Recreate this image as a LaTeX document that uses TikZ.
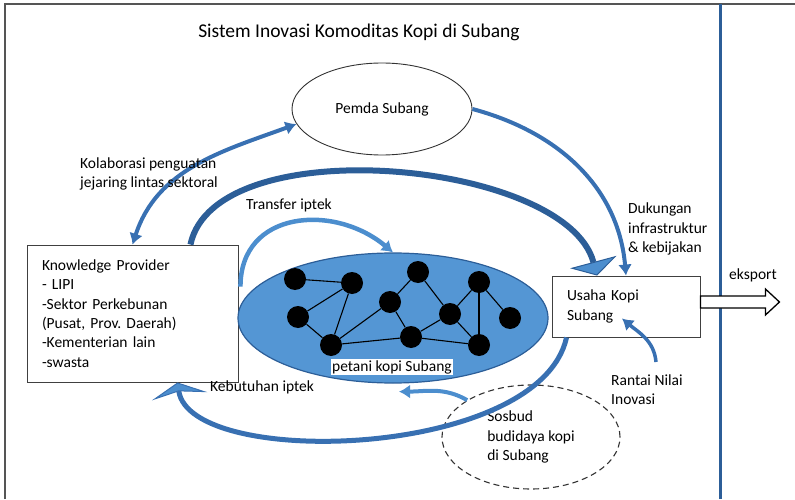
\documentclass[tikz,border=0pt]{standalone}
\usepackage{fontspec}
\setmainfont{Carlito}
\frenchspacing
\usetikzlibrary{positioning,arrows.meta,shapes.geometric,calc}
\definecolor{kopidark}{RGB}{44,94,152}
\definecolor{kopiblue}{RGB}{56,112,178}
\definecolor{kopilight}{RGB}{76,142,206}
\definecolor{kopifill}{RGB}{84,150,212}
\definecolor{framegray}{RGB}{85,85,85}
\newcommand{\kopifont}{\fontsize{15.5}{19.3}\selectfont}
\newcommand{\kopititle}{\fontsize{19.5}{23}\selectfont}
\tikzset{
  boxstyle/.style={rectangle, draw=black!75, line width=0.9pt, fill=white,
    inner xsep=15pt, inner ysep=4pt, align=left, font=\kopifont},
  ovalstyle/.style={ellipse, draw=black!80, line width=0.9pt, inner sep=0pt,
    align=left, font=\kopifont},
  netstyle/.style={ellipse, draw=kopidark, line width=1.2pt, fill=kopifill,
    minimum width=310pt, minimum height=130pt},
  dot/.style={circle, fill=black, minimum size=22pt, inner sep=0pt},
  labelstyle/.style={inner sep=0pt, align=left, font=\kopifont},
  bluearrow/.style={kopiblue, line width=4pt, ->},
  lightarrow/.style={kopilight, line width=4.5pt, ->},
  bigarrow/.style={kopidark, line width=6pt,
    -{Triangle[length=14pt, width=48pt, line width=1pt, fill=kopilight]}},
  needarrow/.style={kopiblue, line width=5pt,
    -{Stealth[length=14pt, width=56pt, inset=5pt, line width=1pt, fill=kopilight]}}
}

\begin{document}
\begin{tikzpicture}[x=1pt, y=1pt, >={Latex[length=11pt, width=14pt]}]
  \useasboundingbox (0,0) rectangle (795,499);
  % frame
  \draw[framegray, line width=1.6pt] (5,0) -- (5,495) -- (795,495);
  \draw[kopidark, line width=3pt] (720,0) -- (720,495);
  \node[font=\kopititle] (title) at (359,467) {Sistem Inovasi Komoditas Kopi di Subang};

  \node[ovalstyle, minimum width=180pt, minimum height=92pt] (pemda) at (382,390) {Pemda Subang};
  \node[boxstyle, minimum width=211pt, minimum height=137pt, text width=181pt] (kp) at (132.5,185.5)
    {Knowledge Provider\\- LIPI\\-Sektor Perkebunan\\(Pusat, Prov. Daerah)\\-Kementerian lain\\-swasta};
  \node[boxstyle, minimum width=148pt, minimum height=61pt, text width=118pt] (usaha) at (626,192.5)
    {Usaha Kopi\\Subang};

  % jejaring petani
  \node[netstyle] (petani) at (393,181) {};
  \foreach \n/\x/\y in {n1/295/220, n2/352/216, n3/298/182, n4/331/154, n5/390/197, n6/418/227,
    n7/411/162, n8/450/185, n9/479/217, n10/479/154, n11/510/181}
    \node[dot] (\n) at (\x,\y) {};
  \foreach \a/\b in {n1/n2, n2/n3, n3/n4, n2/n4, n4/n5, n4/n7, n5/n6, n5/n7, n6/n8, n7/n8,
    n7/n10, n8/n9, n8/n10, n9/n10, n9/n11}
    \draw[black, line width=1.1pt] (\a) -- (\b);
  \node[labelstyle, fill=white, inner sep=1.5pt] (lblpetani) at (392,132) {petani kopi Subang};

  \node[ovalstyle, dashed, dash pattern=on 6pt off 4pt, line width=1.1pt,
    minimum width=178pt, minimum height=104pt] (sosbud) at (531,62) {Sosbud\\budidaya kopi\\di Subang};

  % ekspor
  \draw[line width=1.3pt, fill=white] ($(usaha.east)+(0,-1.5)$) -- ++(65,0) -- ++(0,-7) -- ++(14,13)
    -- ++(-14,13) -- ++(0,-7) -- ++(-65,0) -- cycle;
  \node[labelstyle] (ekspor) at (753,224) {eksport};

  % connectors
  \draw[bluearrow, <->] (kp.north) to[out=72, in=200] (pemda.190);
  \draw[bluearrow] (pemda.east) to[out=-15, in=95] (usaha.north);
  \draw[bigarrow] ($(kp.north east)+(-48,0)$) to[out=78, in=105, looseness=0.75] ($(usaha.north)+(-29,0)$);
  \draw[lightarrow] ($(kp.north east)+(2,-42)$) to[out=90, in=140, looseness=1.25] (petani.north);
  \coordinate (kbs) at ($(usaha.south west)+(15,0)$);
  \coordinate (kbe) at ($(kp.south)+(45,0)$);
  \draw[needarrow] (kbs) .. controls ($(kbs)+(-27,-122)$) and ($(kbe)+(13,-87)$) .. (kbe);
  \draw[lightarrow, line width=4pt] (sosbud.150) to[out=150, in=0] ($(petani.south)+(6,-8)$);
  \coordinate (rnt) at (656,137);
  \draw[bluearrow, line width=3.5pt] (rnt) to[out=95, in=-40] ($(usaha.center)+(-4,-12)$);

  % labels
  \node[labelstyle, anchor=west] (kolab) at (80,325) {Kolaborasi penguatan\\jejaring lintas sektoral};
  \node[labelstyle] (transfer) at (289,294) {Transfer iptek};
  \node[labelstyle, anchor=west] (dukung) at (628,270) {Dukungan\\infrastruktur\\\& kebijakan};
  \node[labelstyle, anchor=west] (butuh) at (210,112) {Kebutuhan iptek};
  \node[labelstyle, anchor=west] (rantai) at (611,109.5) {Rantai Nilai\\Inovasi};
\end{tikzpicture}
\end{document}
